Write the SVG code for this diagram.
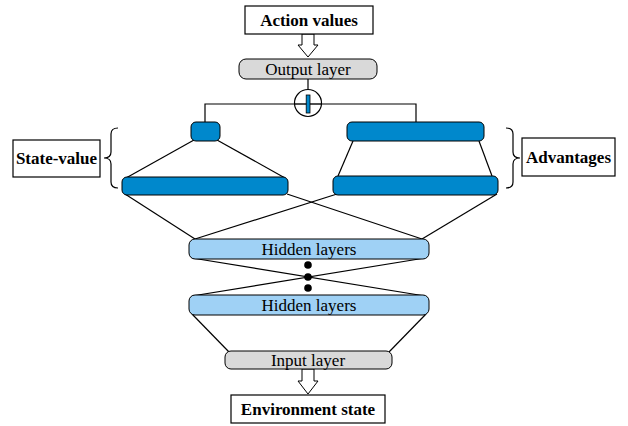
<svg xmlns="http://www.w3.org/2000/svg" width="628" height="426" viewBox="0 0 628 426">
  <style>
    text { font-family: "Liberation Serif", "DejaVu Serif", "Times New Roman", serif; fill: #000; text-anchor: middle; }
    .lbl { fill: #ffffff; stroke: #000000; stroke-width: 1.2; }
    .lbl-t { font-weight: bold; font-size: 17px; }
    .gray { fill: #d9d9d9; stroke: #000; stroke-width: 1; }
    .dark { fill: #0088cc; stroke: #000; stroke-width: 1; }
    .light { fill: #9fd1f5; stroke: #000; stroke-width: 1; }
    .layer-t { font-size: 17px; }
    .wire { fill: none; stroke: #000; stroke-width: 1.2; }
    .hollow { fill: #ffffff; stroke: #000; stroke-width: 1; }
  </style>

  <!-- connectors -->
  <g id="connectors">
    <!-- output layer to aggregation node -->
    <line class="wire" x1="308" y1="79" x2="308" y2="90"/>
    <!-- aggregation bus to both streams -->
    <polyline class="wire" points="205,122 205,104 294,104"/>
    <polyline class="wire" points="322,104 416,104 416,122"/>
    <!-- state-value stream fan -->
    <line class="wire" x1="194" y1="140" x2="126" y2="178"/>
    <line class="wire" x1="217" y1="140" x2="285" y2="178"/>
    <!-- advantage stream -->
    <line class="wire" x1="353" y1="141" x2="338" y2="176"/>
    <line class="wire" x1="479" y1="141" x2="492" y2="176"/>
    <!-- streams to hidden layers (crossing) -->
    <line class="wire" x1="125" y1="194" x2="195" y2="239"/>
    <line class="wire" x1="287" y1="194" x2="422" y2="239"/>
    <line class="wire" x1="337" y1="194" x2="195" y2="239"/>
    <line class="wire" x1="497" y1="194" x2="422" y2="239"/>
    <!-- between hidden layers -->
    <line class="wire" x1="192" y1="258" x2="425" y2="296"/>
    <line class="wire" x1="425" y1="258" x2="192" y2="296"/>
    <!-- hidden layers to input layer -->
    <line class="wire" x1="192" y1="314" x2="229" y2="352"/>
    <line class="wire" x1="426" y1="314" x2="389" y2="352"/>
    <!-- hollow arrows -->
    <polygon class="hollow" points="302,34 314,34 314,45 318,45 308,57 298,45 302,45"/>
    <polygon class="hollow" points="302,369 314,369 314,381 318,381 308,394 298,381 302,381"/>
  </g>

  <!-- nodes -->
  <g id="action-values">
    <rect class="lbl" x="245" y="6" width="128" height="28"/>
    <text class="lbl-t" x="309" y="26">Action values</text>
  </g>

  <g id="output-layer">
    <rect class="gray" x="239" y="59" width="138" height="20" rx="7"/>
    <text class="layer-t" x="308" y="75">Output layer</text>
  </g>

  <g id="aggregation">
    <circle cx="308" cy="103" r="13.5" fill="#ffffff" stroke="#000" stroke-width="1.2"/>
    <line x1="294.5" y1="104" x2="321.5" y2="104" stroke="#000" stroke-width="1.4"/>
    <rect x="306.2" y="95" width="3.8" height="18" fill="#0088cc" stroke="#000" stroke-width="0.8"/>
  </g>

  <g id="state-value-top">
    <rect class="dark" x="191" y="122" width="29" height="19" rx="5"/>
  </g>
  <g id="state-value-bottom">
    <rect class="dark" x="122" y="177" width="166" height="18" rx="5"/>
  </g>
  <g id="advantage-top">
    <rect class="dark" x="347" y="122" width="137" height="19" rx="5"/>
  </g>
  <g id="advantage-bottom">
    <rect class="dark" x="333" y="176" width="165" height="19" rx="5"/>
  </g>

  <g id="state-value-label">
    <rect class="lbl" x="13" y="140" width="87" height="37"/>
    <text class="lbl-t" x="56.5" y="164">State-value</text>
    <path class="wire" d="M118,128 Q111,128 111,134 L111,152 Q111,158 104,158 Q111,158 111,164 L111,182 Q111,188 118,188"/>
  </g>

  <g id="advantages-label">
    <rect class="lbl" x="522" y="138" width="93" height="38"/>
    <text class="lbl-t" x="568.5" y="163">Advantages</text>
    <path class="wire" d="M506,128 Q513,128 513,134 L513,152 Q513,158 520,158 Q513,158 513,164 L513,182 Q513,188 506,188"/>
  </g>

  <g id="hidden-layers-1">
    <rect class="light" x="189" y="239" width="240" height="20" rx="6"/>
    <text class="layer-t" x="309" y="255">Hidden layers</text>
  </g>

  <g id="ellipsis">
    <circle cx="308" cy="265" r="3.8" fill="#000"/>
    <circle cx="308" cy="277" r="3.8" fill="#000"/>
    <circle cx="308" cy="288" r="3.8" fill="#000"/>
  </g>

  <g id="hidden-layers-2">
    <rect class="light" x="189" y="295" width="240" height="20" rx="6"/>
    <text class="layer-t" x="309" y="311">Hidden layers</text>
  </g>

  <g id="input-layer">
    <rect class="gray" x="225" y="351" width="167" height="18" rx="6"/>
    <text class="layer-t" x="308" y="366">Input layer</text>
  </g>

  <g id="environment-state">
    <rect class="lbl" x="231" y="395" width="154" height="28"/>
    <text class="lbl-t" x="308" y="415">Environment state</text>
  </g>
</svg>
